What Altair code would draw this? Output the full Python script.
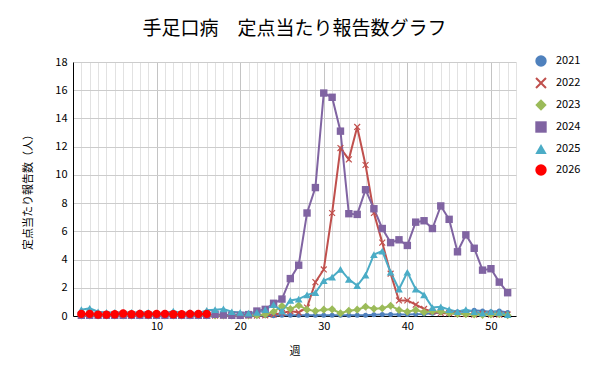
import altair as alt
import pandas as pd

weeks = list(range(1, 53))

y2021 = [0.02]*24 + [0.05]*11 + [0.08, 0.1, 0.1, 0.1, 0.1,
         0.12, 0.15, 0.2, 0.25, 0.25, 0.3, 0.3, 0.4, 0.35, 0.3, 0.35, 0.25]
y2022 = [0.03]*22 + [0.05, 0.1, 0.2, 0.35, 0.25, 0.6, 2.4, 3.3, 7.3, 11.9, 11.1, 13.4,
         10.7, 7.3, 5.2, 3.0, 1.1, 1.1, 0.8, 0.5, 0.3, 0.2, 0.2, 0.15, 0.15, 0.1, 0.15,
         0.1, 0.1, 0.1, 0.05]
y2023 = [0.03]*21 + [0.05, 0.1, 0.3, 0.7, 0.5, 0.75, 0.45, 0.35, 0.45, 0.47, 0.2, 0.37,
         0.45, 0.65, 0.52, 0.55, 0.73, 0.43, 0.3, 0.43, 0.27, 0.33, 0.3, 0.22, 0.15, 0.12,
         0.1, 0.08, 0.1, 0.12, 0.05]
y2024 = [0.05]*16 + [0.12, 0.07, 0.05, 0.05, 0.1, 0.35, 0.47, 0.9, 1.2, 2.65, 3.6, 7.3,
         9.1, 15.8, 15.5, 13.1, 7.25, 7.2, 8.95, 7.6, 6.2, 5.2, 5.4, 5.0, 6.65, 6.75, 6.2,
         7.8, 6.85, 4.55, 5.75, 4.8, 3.25, 3.35, 2.4, 1.65]
y2025 = [0.45, 0.55, 0.3, 0.25, 0.25, 0.25, 0.25, 0.25, 0.25, 0.2, 0.2, 0.35, 0.2, 0.25,
         0.2, 0.4, 0.45, 0.5, 0.3, 0.25, 0.2, 0.25, 0.45, 0.8, 0.35, 1.1, 1.2, 1.5, 1.65,
         2.5, 2.75, 3.3, 2.6, 2.15, 2.9, 4.35, 4.6, 3.1, 1.9, 3.1, 1.9, 1.5, 0.6, 0.65,
         0.45, 0.3, 0.45, 0.3, 0.2, 0.3, 0.25, 0.1]
y2026 = [0.15, 0.15, 0.1, 0.1, 0.12, 0.18, 0.12, 0.15, 0.12, 0.15, 0.15, 0.12, 0.12,
         0.15, 0.15, 0.15]

years = ["2021", "2022", "2023", "2024", "2025", "2026"]
series = [y2021, y2022, y2023, y2024, y2025, y2026]
colors = ["#4F81BD", "#C0504D", "#9BBB59", "#8064A2", "#4BACC6", "#FF0000"]
xshape = "M-1,-0.75L-0.75,-1L0,-0.25L0.75,-1L1,-0.75L0.25,0L1,0.75L0.75,1L0,0.25L-0.75,1L-1,0.75L-0.25,0Z"
shapes = ["circle", xshape, "diamond", "square", "triangle-up", "circle"]
sizes = [25, 45, 65, 55, 60, 70]

rows = []
for i, (yr, vals) in enumerate(zip(years, series)):
    for w, v in zip(weeks, vals):
        rows.append({"週": w, "値": v, "年": yr, "ord": i, "sz": sizes[i]})
df = pd.DataFrame(rows)

font = "Noto Sans CJK JP"

x = alt.X("週:Q", scale=alt.Scale(domain=[0, 53], nice=False, zero=True),
          axis=alt.Axis(values=list(range(0, 54)), title="週",
                        labelExpr="(datum.value % 10 === 0 && datum.value > 0) ? datum.label : ''",
                        gridColor={"condition": {"test": "datum.value % 10 === 0", "value": "#c4c4c4"},
                                   "value": "#e2e2e2"},
                        ticks=False, domainColor="#000000", labelPadding=4,
                        titlePadding=14, labelFlush=False))
y = alt.Y("値:Q", scale=alt.Scale(domain=[0, 18], nice=False),
          axis=alt.Axis(values=list(range(0, 19, 2)), title="定点当たり報告数（人）",
                        gridColor="#cccccc", ticks=False, domainColor="#000000",
                        labelPadding=6, titlePadding=21))

leg = alt.Legend(title=None, orient="none", legendX=462, legendY=-7,
                 symbolSize=130, rowPadding=10, labelFontSize=11,
                 labelOffset=9, labelFont=font, symbolStrokeWidth=0)

lines = alt.Chart(df).mark_line(strokeWidth=2).encode(
    x=x, y=y, color=alt.Color("年:N", scale=alt.Scale(domain=years, range=colors), legend=leg),
    order="週:Q")

points = alt.Chart(df).mark_point(filled=True, opacity=1).encode(
    x=x, y=y,
    color=alt.Color("年:N", scale=alt.Scale(domain=years, range=colors), legend=leg),
    shape=alt.Shape("年:N", scale=alt.Scale(domain=years, range=shapes), legend=leg),
    size=alt.Size("sz:Q", scale=None, legend=None),
    order="ord:Q")

chart = alt.layer(lines, points).properties(
    width=443, height=254,
    autosize=alt.AutoSizeParams(type="none"),
    padding={"left": 65, "top": 54, "right": 76, "bottom": 60},
    title=alt.TitleParams("手足口病　定点当たり報告数グラフ", fontSize=19, font=font,
                          fontWeight="normal", offset=16, color="#000000"),
).configure_axis(
    labelFont=font, titleFont=font, labelFontSize=11, titleFontSize=11,
    labelColor="#000000", titleColor="#000000", titleFontWeight="normal"
).configure_view(stroke=None)

chart.save("out.html", embed_options={"renderer": "svg", "actions": False})
